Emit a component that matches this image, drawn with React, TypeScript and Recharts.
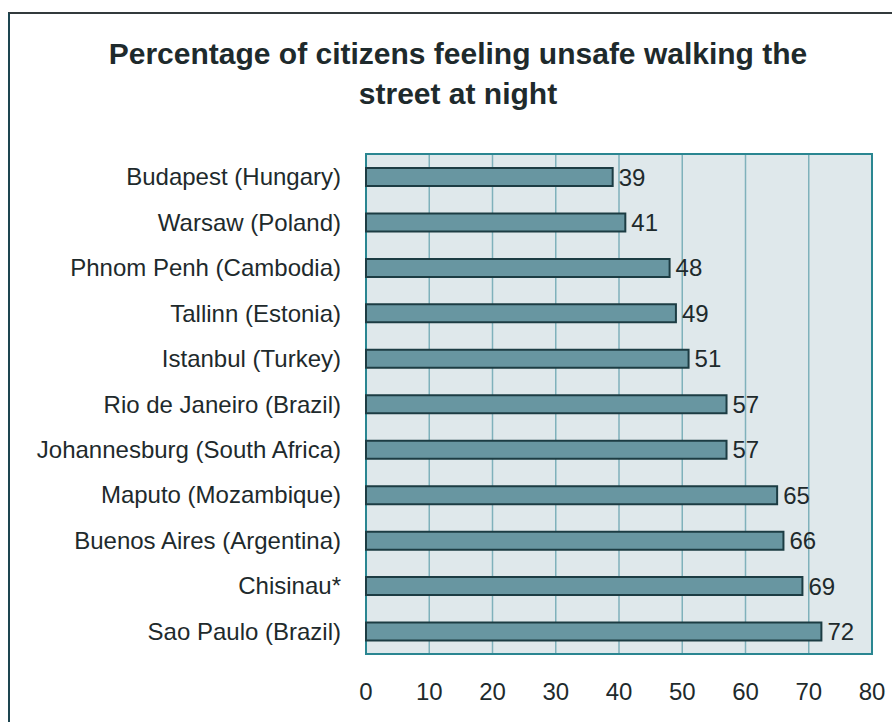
import React from 'react';
import { BarChart, Bar, XAxis, YAxis, CartesianGrid, ReferenceArea, LabelList } from 'recharts';

const cities = [
    'Budapest (Hungary)',
    'Warsaw (Poland)',
    'Phnom Penh (Cambodia)',
    'Tallinn (Estonia)',
    'Istanbul (Turkey)',
    'Rio de Janeiro (Brazil)',
    'Johannesburg (South Africa)',
    'Maputo (Mozambique)',
    'Buenos Aires (Argentina)',
    'Chisinau*',
    'Sao Paulo (Brazil)',
];
const unsafePct = [39, 41, 48, 49, 51, 57, 57, 65, 66, 69, 72];
const xTicks = [0, 10, 20, 30, 40, 50, 60, 70, 80];

const data = cities.map((name, i) => ({ name, value: unsafePct[i] }));

const font = '"Liberation Sans", Arial, sans-serif';
const textColor = '#1e2a2c';

const App: React.FC = () => {
    return (
        <div style={{ position: 'fixed', left: 0, top: 0, width: 892, height: 722, overflow: 'hidden', background: '#fff', fontFamily: font }}>
            {/* outer frame, runs off the right and bottom edge */}
            <div
                style={{
                    position: 'absolute',
                    left: 8,
                    top: 12,
                    width: 1000,
                    height: 1000,
                    borderTop: '2px solid #333a3c',
                    borderLeft: '2px solid #1d4550',
                }}
            />
            <div
                style={{
                    position: 'absolute',
                    left: 0,
                    top: 34,
                    width: 916,
                    textAlign: 'center',
                    fontSize: 30,
                    fontWeight: 700,
                    lineHeight: '40px',
                    color: textColor,
                }}
            >
                Percentage of citizens feeling unsafe walking the
                <br />
                street at night
            </div>
            <div style={{ position: 'absolute', left: 0, top: 0 }}>
                <BarChart
                    width={892}
                    height={722}
                    data={data}
                    layout="vertical"
                    margin={{ top: 154, right: 20, bottom: 0, left: 6 }}
                    barSize={18}
                >
                    <CartesianGrid horizontal={false} stroke="#7fb1bb" strokeWidth={1.5} fill="#dfe8eb" fillOpacity={1} />
                    <XAxis
                        type="number"
                        domain={[0, 80]}
                        ticks={xTicks}
                        axisLine={false}
                        tickLine={false}
                        tickSize={0}
                        tickMargin={29}
                        tick={{ fill: textColor, fontSize: 24, fontFamily: font }}
                        height={68}
                    />
                    <YAxis
                        type="category"
                        dataKey="name"
                        width={360}
                        axisLine={false}
                        tickLine={false}
                        tickSize={0}
                        tickMargin={25}
                        interval={0}
                        tick={{ fill: textColor, fontSize: 24, fontFamily: font }}
                    />
                    <ReferenceArea x1={0} x2={80} fill="none" stroke="#2a8691" strokeWidth={2} />
                    <Bar dataKey="value" fill="#6896a1" stroke="#1c3c43" strokeWidth={2} isAnimationActive={false}>
                        <LabelList dataKey="value" position="right" offset={6} fill={textColor} fontSize={24} fontFamily={font} />
                    </Bar>
                </BarChart>
            </div>
        </div>
    );
};

export default App;
